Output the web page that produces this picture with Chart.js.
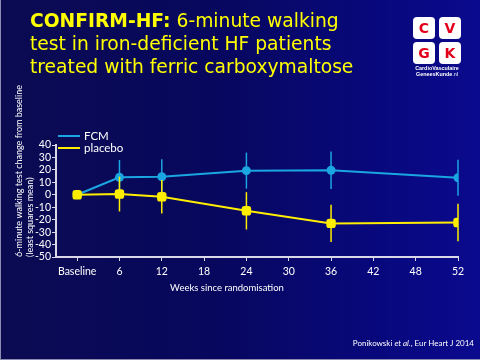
<!DOCTYPE html>
<html><head><meta charset="utf-8">
<script src="https://cdn.jsdelivr.net/npm/chart.js@4.4.1/dist/chart.umd.min.js"></script>
<style>
html,body{margin:0;padding:0;}
body{width:480px;height:360px;overflow:hidden;position:relative;
 background:linear-gradient(90deg,#0b0b52 0%,#07075e 45%,#08087e 80%,#0a0a8e 100%);}
#frame{position:absolute;left:0;top:0;width:479px;height:359px;border-left:1px solid #8c8cb0;border-bottom:1px solid #8c8cb0;box-sizing:content-box;pointer-events:none;}
#c{position:absolute;left:0;top:0;}
#title{position:absolute;left:30px;top:9px;color:#ffff00;font-family:"DejaVu Sans",sans-serif;font-size:18.7px;line-height:23px;white-space:nowrap;}
#title b{font-weight:bold;}
.leg{position:absolute;color:#ffffff;font-family:Lato,sans-serif;font-size:11.5px;line-height:12px;}
.legline{position:absolute;height:2px;width:22px;}
#xtitle{position:absolute;left:0;width:454px;text-align:center;top:282px;color:#fff;font-family:Lato,sans-serif;font-size:9.5px;}
#cite{position:absolute;right:6px;top:338px;color:#fff;font-family:Lato,sans-serif;font-size:8px;}
#logo{position:absolute;left:413px;top:17px;width:48px;}
.sq{position:absolute;width:22px;height:22px;background:#fff;border-radius:4px;color:#e3001b;font-family:"DejaVu Sans",sans-serif;font-weight:bold;font-size:14px;line-height:22px;text-align:center;}
.lt{position:absolute;left:-4px;width:56px;text-align:center;color:#fff;font-family:"Liberation Sans",sans-serif;font-weight:bold;font-size:5.4px;line-height:6px;}
</style></head>
<body>
<canvas id="c" width="480" height="360"></canvas>
<div id="title"><b>CONFIRM-HF:</b> 6-minute walking<br>test in iron-deficient HF patients<br>treated with ferric carboxymaltose</div>
<div id="logo">
 <div class="sq" style="left:0;top:0">C</div>
 <div class="sq" style="left:26px;top:0">V</div>
 <div class="sq" style="left:0;top:25px">G</div>
 <div class="sq" style="left:26px;top:25px">K</div>
 <div class="lt" style="top:48px">CardioVasculaire</div>
 <div class="lt" style="top:54px">GeneesKunde<span style="font-weight:normal">.nl</span></div>
</div>
<div class="legline" style="left:58px;top:135px;background:#1aa6e0"></div>
<div class="leg" style="left:84px;top:130px">FCM</div>
<div class="legline" style="left:58px;top:147px;background:#ffee00"></div>
<div class="leg" style="left:84px;top:142px">placebo</div>
<div id="xtitle">Weeks since randomisation</div>
<div id="cite">Ponikowski <i>et al.</i>, Eur Heart J 2014</div>
<div id="frame"></div>
<script>
// ---- data ----
const axisLabels = ['Baseline','6','12','18','24','30','36','42','48','52'];
const measuredWeeks = ['Baseline','6','12','24','36','52'];
const fcmMean = [0, 14, 14.5, 19.4, 19.7, 13.7];
const fcmErr = [0, 14, 14, 14.5, 15, 14.5];
const placeboMean = [0, 0.6, -1.6, -12.9, -23, -22.3];
const placeboErr = [0, 14, 13.5, 15, 15, 15];
const yTicks = [-50,-40,-30,-20,-10,0,10,20,30,40];
const yTitle = ['6-minute walking test change from baseline','(least squares mean)'];

const FCM_COLOR = '#1aa6e0';
const PLA_COLOR = '#ffee00';

function toPoints(means, errs){
  return measuredWeeks.map((w,i)=>({x: axisLabels.indexOf(w), y: means[i], err: errs[i]}));
}

const errorBars = {
  id:'errorBars',
  beforeDatasetDraw(chart, args){
    const meta = args.meta;
    const ds = chart.data.datasets[args.index];
    const ys = chart.scales.y;
    const ctx = chart.ctx;
    ctx.save();
    ctx.strokeStyle = ds.borderColor;
    ctx.lineWidth = 1.5;
    meta.data.forEach((pt,i)=>{
      const d = ds.data[i];
      if(!d.err) return;
      ctx.beginPath();
      ctx.moveTo(pt.x, ys.getPixelForValue(d.y + d.err));
      ctx.lineTo(pt.x, ys.getPixelForValue(d.y - d.err));
      ctx.stroke();
    });
    ctx.restore();
  }
};

new Chart(document.getElementById('c'), {
  type:'line',
  data:{
    datasets:[
      {label:'FCM', data:toPoints(fcmMean,fcmErr), borderColor:FCM_COLOR, backgroundColor:FCM_COLOR,
       borderWidth:2, pointStyle:'circle', pointRadius:4.5, pointBorderWidth:0, order:1},
      {label:'placebo', data:toPoints(placeboMean,placeboErr), borderColor:PLA_COLOR, backgroundColor:PLA_COLOR,
       borderWidth:2, pointStyle:'rectRounded', pointRadius:5.5, pointBorderWidth:0, order:0}
    ]
  },
  options:{
    responsive:false, animation:false,
    layout:{padding:{left:0,right:22,top:145,bottom:0}},
    plugins:{legend:{display:false}, tooltip:{enabled:false}},
    scales:{
      x:{type:'linear', min:-0.5, max:9,
        afterBuildTicks(s){ s.ticks = axisLabels.map((l,i)=>({value:i})); },
        afterFit(s){ s.height = 103; },
        ticks:{color:'#ffffff', font:{family:'Lato', size:10.5}, padding:4, maxRotation:0, autoSkip:false,
          callback:(v)=>axisLabels[v]},
        grid:{drawOnChartArea:false, drawTicks:true, tickLength:4, color:'#d8d8e8'},
        border:{color:'#d8d8e8', width:2}
      },
      y:{min:-50, max:40,
        afterBuildTicks(s){ s.ticks = yTicks.map(v=>({value:v})); },
        afterFit(s){ s.width = 56; },
        ticks:{color:'#ffffff', font:{family:'Lato', size:10.5}, padding:1, autoSkip:false},
        grid:{drawOnChartArea:false, drawTicks:true, tickLength:4, color:'#d8d8e8'},
        border:{color:'#d8d8e8', width:2},
        title:{display:true, text:yTitle, color:'#ffffff', align:'start',
          font:{family:'Lato', size:9, lineHeight:1.25}, padding:{top:13,bottom:0}}
      }
    }
  },
  plugins:[errorBars]
});
</script>
</body></html>
